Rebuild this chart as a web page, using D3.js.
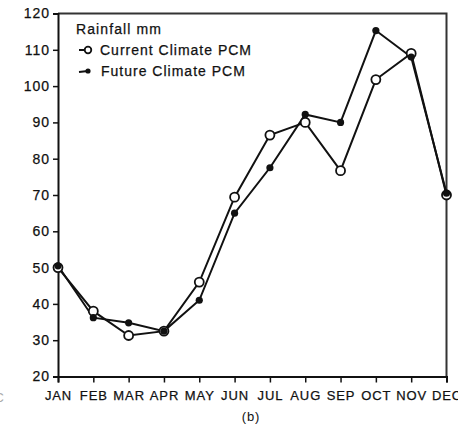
<!DOCTYPE html>
<html>
<head>
<meta charset="utf-8">
<script src="https://cdn.jsdelivr.net/npm/d3@7"></script>
<style>
  body { margin: 0; background: #fff; }
  svg { display: block; }
  text { font-family: "Liberation Sans", Arial, sans-serif; fill: #111; }
</style>
</head>
<body>
<svg id="chart" width="458" height="429"></svg>
<script>
const months = ["JAN","FEB","MAR","APR","MAY","JUN","JUL","AUG","SEP","OCT","NOV","DEC"];
const currentPCM = [50, 38, 31.3, 32.5, 46, 69.4, 86.5, 90, 76.7, 101.8, 109, 70];
const futurePCM  = [50.5, 36.2, 34.8, 32.5, 41, 65, 77.5, 92.2, 90, 115.3, 108, 70.5];
const yTicks = [20, 30, 40, 50, 60, 70, 80, 90, 100, 110, 120];
const legendTitle = "Rainfall mm";
const seriesNames = ["Current Climate PCM", "Future Climate PCM"];
const caption = "(b)";

const svg = d3.select("#chart");
const L = 58, R = 446.5, T = 13.5, B = 376.5;

const x = d3.scalePoint().domain(months).range([L, R]);
const y = d3.scaleLinear().domain([20, 120]).range([B, T]);

// frame (top & right)
svg.append("path")
  .attr("d", `M${L},${T}H${R}V${B}`)
  .attr("fill", "none").attr("stroke", "#333").attr("stroke-width", 2);

// y axis
const yAxis = svg.append("g").attr("transform", `translate(${L},0)`)
  .call(d3.axisLeft(y).tickValues(yTicks).tickSize(5).tickPadding(3));
yAxis.select(".domain").attr("stroke", "#111").attr("stroke-width", 2);
yAxis.selectAll(".tick line").attr("stroke", "#111").attr("stroke-width", 1.5);
yAxis.selectAll(".tick text").attr("font-size", 14).attr("font-family", "Liberation Sans, Arial, sans-serif")
  .attr("fill", "#111").attr("letter-spacing", 1).attr("stroke", "#111").attr("stroke-width", 0.25);

// x axis
const xAxis = svg.append("g").attr("transform", `translate(0,${B})`)
  .call(d3.axisBottom(x).tickSize(6).tickPadding(8));
xAxis.select(".domain").attr("stroke", "#111").attr("stroke-width", 2);
xAxis.selectAll(".tick line").attr("stroke", "#111").attr("stroke-width", 1.5);
xAxis.selectAll(".tick text").attr("font-size", 13).attr("font-family", "Liberation Sans, Arial, sans-serif")
  .attr("fill", "#111").attr("letter-spacing", 0.9).attr("stroke", "#111").attr("stroke-width", 0.25);

// fragment of neighbouring panel's label at left edge
svg.append("text").attr("x", 4).attr("y", 402).attr("text-anchor", "end")
  .attr("font-size", 13).style("fill", "#aaa").text("DEC");

// caption
svg.append("text").attr("x", 251).attr("y", 421).attr("text-anchor", "middle")
  .attr("font-size", 13).attr("letter-spacing", 0.8).text(caption);

const line = d3.line().x((d, i) => x(months[i])).y(d => y(d));

// future series
svg.append("path").datum(futurePCM).attr("d", line)
  .attr("fill", "none").attr("stroke", "#111").attr("stroke-width", 2);
// current series
svg.append("path").datum(currentPCM).attr("d", line)
  .attr("fill", "none").attr("stroke", "#111").attr("stroke-width", 2);

svg.append("g").selectAll("circle").data(currentPCM).join("circle")
  .attr("cx", (d, i) => x(months[i])).attr("cy", d => y(d)).attr("r", 4.5)
  .attr("fill", "#fff").attr("stroke", "#111").attr("stroke-width", 1.8);

svg.append("g").selectAll("circle").data(futurePCM).join("circle")
  .attr("cx", (d, i) => x(months[i])).attr("cy", d => y(d)).attr("r", 3.6)
  .attr("fill", "#111");

// legend
const lg = svg.append("g").attr("stroke", "none");
lg.append("text").attr("x", 76).attr("y", 34).attr("font-size", 14).attr("letter-spacing", 1.1)
  .attr("stroke", "#111").attr("stroke-width", 0.25).text(legendTitle);
lg.append("line").attr("x1", 79).attr("x2", 88).attr("y1", 50).attr("y2", 50).attr("stroke", "#111").attr("stroke-width", 2);
lg.append("circle").attr("cx", 88).attr("cy", 50).attr("r", 3.3).attr("fill", "#fff").attr("stroke", "#111").attr("stroke-width", 1.8);
lg.append("text").attr("x", 100).attr("y", 55).attr("font-size", 14).attr("letter-spacing", 1)
  .attr("stroke", "#111").attr("stroke-width", 0.25).text(seriesNames[0]);
lg.append("line").attr("x1", 79).attr("x2", 88).attr("y1", 72).attr("y2", 71).attr("stroke", "#111").attr("stroke-width", 2);
lg.append("circle").attr("cx", 88).attr("cy", 71).attr("r", 2.6).attr("fill", "#111");
lg.append("text").attr("x", 101).attr("y", 76).attr("font-size", 14).attr("letter-spacing", 1)
  .attr("stroke", "#111").attr("stroke-width", 0.25).text(seriesNames[1]);
</script>
</body>
</html>
